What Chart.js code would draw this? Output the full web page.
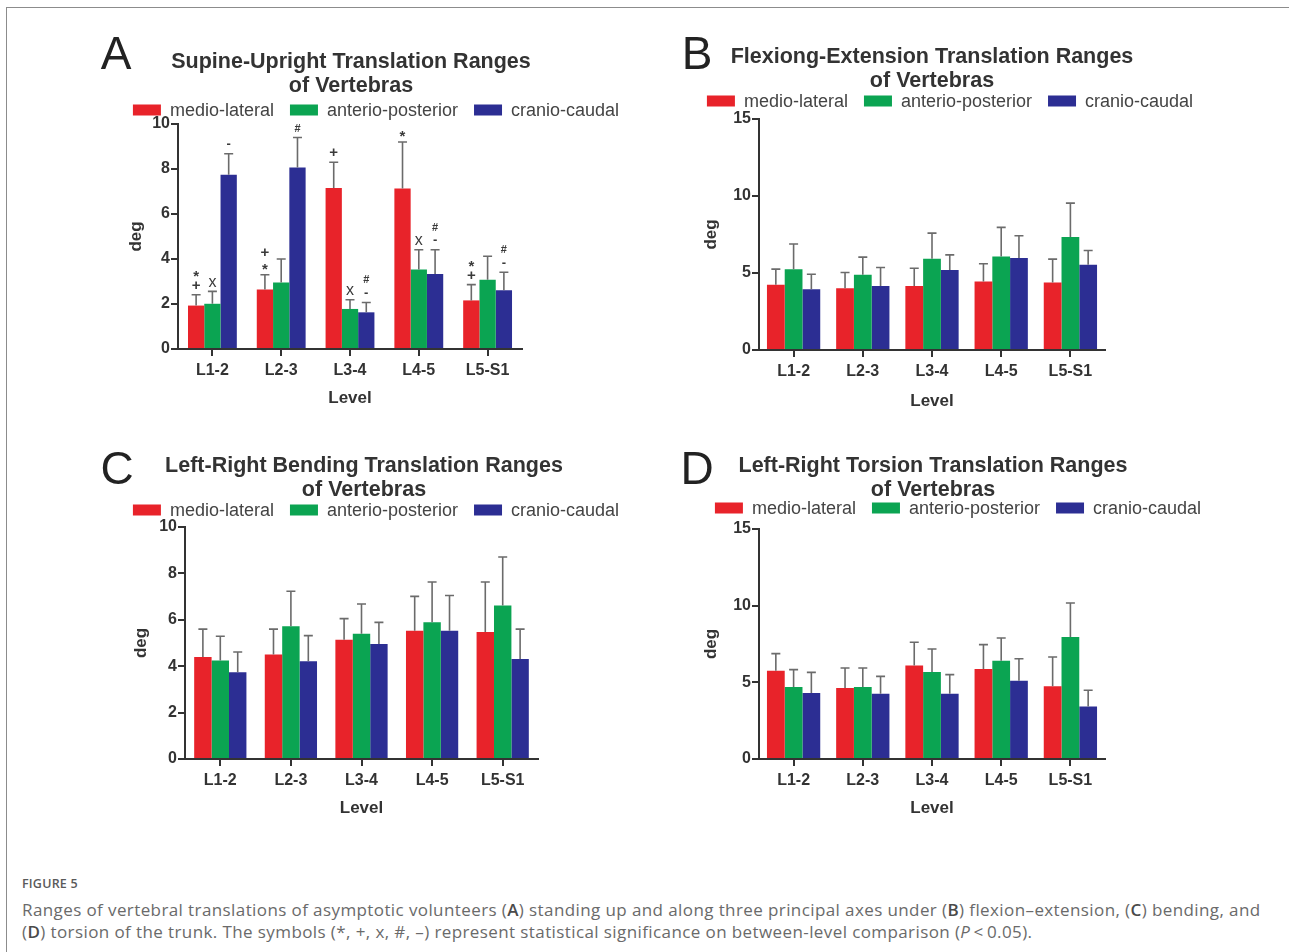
<!DOCTYPE html>
<html>
<head>
<meta charset="utf-8">
<script src="https://cdn.jsdelivr.net/npm/chart.js@4.4.0/dist/chart.umd.min.js"></script>
<style>
  body { margin: 0; background: #fff; width: 1289px; height: 952px; overflow: hidden; position: relative; }
  .frame { position: absolute; left: 6px; top: 7px; width: 1400px; height: 1000px;
           border-left: 1px solid #8c8c8c; border-top: 1px solid #8c8c8c; }
  .panel { position: absolute; }
  .fig-label { position: absolute; left: 22px; top: 875px; font: 600 12.5px "Open Sans", sans-serif;
               color: #5a5a5a; letter-spacing: 0.2px; }
  .caption { position: absolute; left: 22px; top: 899px; font: 400 17px "Open Sans", sans-serif;
             color: #6a6a6a; line-height: 22px; white-space: nowrap; letter-spacing: 0.4px; }
  .caption b { font-weight: 600; color: #4a4a4a; }
</style>
</head>
<body>
<div class="frame"></div>
<div class="fig-label">FIGURE 5</div>
<div class="caption">Ranges of vertebral translations of asymptotic volunteers (<b>A</b>) standing up and along three principal axes under (<b>B</b>) flexion–extension, (<b>C</b>) bending, and<br>(<b>D</b>) torsion of the trunk. The symbols (*, +, x, #, –) represent statistical significance on between-level comparison (<i>P</i>&thinsp;&lt;&thinsp;0.05).</div>

<script>
// ---- data (deg) ----
const levels = ['L1-2', 'L2-3', 'L3-4', 'L4-5', 'L5-S1'];
const seriesNames = ['medio-lateral', 'anterio-posterior', 'cranio-caudal'];
const seriesColors = ['#e8232a', '#0ba452', '#2c2e93'];

const ticks10 = [0, 2, 4, 6, 8, 10];
const ticks15 = [0, 5, 10, 15];

// A: supine-upright
const supMedio = [1.93, 2.64, 7.16, 7.13, 2.16];
const supMedioSD = [0.48, 0.66, 1.14, 2.07, 0.70];
const supAnterio = [2.01, 2.96, 1.78, 3.53, 3.08];
const supAnterioSD = [0.55, 1.04, 0.41, 0.88, 1.04];
const supCranio = [7.75, 8.07, 1.63, 3.33, 2.61];
const supCranioSD = [0.93, 1.33, 0.44, 1.08, 0.80];
// significance marks, top line first
const supMedioMarks = ['*\n+', '+\n*', '+', '*', '*\n+'];
const supAnterioMarks = ['x', '', 'x', 'x', ''];
const supCranioMarks = ['-', '#', '#\n-', '#\n-', '#\n-'];

// B: flexion-extension
const flexMedio = [4.23, 4.01, 4.16, 4.45, 4.38];
const flexMedioSD = [1.02, 1.02, 1.15, 1.15, 1.52];
const flexAnterio = [5.25, 4.88, 5.92, 6.07, 7.33];
const flexAnterioSD = [1.63, 1.15, 1.67, 1.89, 2.21];
const flexCranio = [3.95, 4.16, 5.20, 5.97, 5.53];
const flexCranioSD = [0.97, 1.20, 0.98, 1.45, 0.93];

// C: left-right bending
const bendMedio = [4.40, 4.50, 5.14, 5.53, 5.47];
const bendMedioSD = [1.20, 1.10, 0.91, 1.48, 2.16];
const bendAnterio = [4.25, 5.72, 5.40, 5.89, 6.62];
const bendAnterioSD = [1.04, 1.51, 1.28, 1.74, 2.09];
const bendCranio = [3.74, 4.21, 4.96, 5.53, 4.31];
const bendCranioSD = [0.87, 1.11, 0.93, 1.52, 1.29];

// D: left-right torsion
const torsMedio = [5.76, 4.63, 6.09, 5.87, 4.74];
const torsMedioSD = [1.11, 1.30, 1.52, 1.59, 1.91];
const torsAnterio = [4.70, 4.70, 5.67, 6.41, 7.96];
const torsAnterioSD = [1.13, 1.23, 1.50, 1.48, 2.21];
const torsCranio = [4.30, 4.26, 4.26, 5.11, 3.43];
const torsCranioSD = [1.35, 1.13, 1.24, 1.43, 1.05];

// ---- layout of the four panels (page pixels) ----
const panels = [
  {
    letter: 'A', title: ['Supine-Upright Translation Ranges', 'of Vertebras'],
    values: [supMedio, supAnterio, supCranio], errors: [supMedioSD, supAnterioSD, supCranioSD],
    marks: [supMedioMarks, supAnterioMarks, supCranioMarks], yTicks: ticks10,
    box: { left: 85, top: 20, width: 565, height: 400 },
    plot: { left: 178, right: 522, top: 124, bottom: 349 },
    letterPos: [116, 56], titleX: 351, titleY: 62, legendX: 376, legendY: 110,
    degX: 136, levelY: 398, catPct: 0.71
  },
  {
    letter: 'B', title: ['Flexiong-Extension Translation Ranges', 'of Vertebras'],
    values: [flexMedio, flexAnterio, flexCranio], errors: [flexMedioSD, flexAnterioSD, flexCranioSD],
    marks: null, yTicks: ticks15,
    box: { left: 665, top: 20, width: 600, height: 400 },
    plot: { left: 759, right: 1105, top: 119, bottom: 350 },
    letterPos: [697, 56], titleX: 932, titleY: 57, legendX: 950, legendY: 101,
    degX: 711, levelY: 401, catPct: 0.77
  },
  {
    letter: 'C', title: ['Left-Right Bending Translation Ranges', 'of Vertebras'],
    values: [bendMedio, bendAnterio, bendCranio], errors: [bendMedioSD, bendAnterioSD, bendCranioSD],
    marks: null, yTicks: ticks10,
    box: { left: 85, top: 430, width: 565, height: 400 },
    plot: { left: 185, right: 538, top: 527, bottom: 759 },
    letterPos: [117, 471], titleX: 364, titleY: 466, legendX: 376, legendY: 510,
    degX: 141, levelY: 808, catPct: 0.74
  },
  {
    letter: 'D', title: ['Left-Right Torsion Translation Ranges', 'of Vertebras'],
    values: [torsMedio, torsAnterio, torsCranio], errors: [torsMedioSD, torsAnterioSD, torsCranioSD],
    marks: null, yTicks: ticks15,
    box: { left: 665, top: 430, width: 600, height: 400 },
    plot: { left: 759, right: 1105, top: 529, bottom: 759 },
    letterPos: [697, 471], titleX: 933, titleY: 466, legendX: 958, legendY: 508,
    degX: 711, levelY: 808, catPct: 0.77
  }
];

const ink = '#333';
const markFonts = {
  '*': 'bold 15px "Liberation Sans"',
  '+': 'bold 15px "Liberation Sans"',
  'x': '16px "Liberation Sans"',
  '#': 'bold 11px "Liberation Sans"',
  '-': 'bold 13px "Liberation Sans"'
};

// error bars, significance marks, titles and the legend
function makeDecor(panel) {
  const ox = panel.box.left, oy = panel.box.top;
  return {
    id: 'decor' + panel.letter,
    afterDatasetsDraw(chart) {
      const ctx = chart.ctx;
      const yScale = chart.scales.y;
      ctx.save();
      chart.data.datasets.forEach((ds, i) => {
        chart.getDatasetMeta(i).data.forEach((bar, j) => {
          const top = yScale.getPixelForValue(ds.data[j] + ds.errorBars[j]);
          ctx.strokeStyle = '#6b6b6b';
          ctx.lineWidth = 1.6;
          ctx.beginPath();
          ctx.moveTo(bar.x, bar.y);
          ctx.lineTo(bar.x, top);
          ctx.moveTo(bar.x - 4.5, top);
          ctx.lineTo(bar.x + 4.5, top);
          ctx.stroke();

          const marks = panel.marks ? panel.marks[i][j] : '';
          if (!marks) return;
          ctx.fillStyle = '#3a3a3a';
          ctx.textAlign = 'center';
          ctx.textBaseline = 'middle';
          marks.split('\n').reverse().forEach((m, k) => {
            ctx.font = markFonts[m];
            const dy = m === '*' ? 4 : 0;
            ctx.fillText(m, bar.x, top - 9 - 13 * k + dy);
          });
        });
      });
      ctx.restore();
    },
    afterDraw(chart) {
      const ctx = chart.ctx;
      ctx.save();
      ctx.fillStyle = '#222';
      ctx.textAlign = 'center';
      ctx.textBaseline = 'middle';
      ctx.font = '46px "Liberation Sans"';
      ctx.fillText(panel.letter, panel.letterPos[0] - ox, panel.letterPos[1] - oy);

      ctx.fillStyle = ink;
      ctx.font = 'bold 21.5px "Liberation Sans"';
      panel.title.forEach((line, k) => {
        ctx.fillText(line, panel.titleX - ox, panel.titleY - oy + 24 * k);
      });

      // legend
      ctx.font = '18px "Liberation Sans"';
      const boxW = 28, boxH = 11, gap = 9, spacing = 16;
      const widths = chart.data.datasets.map(ds => ctx.measureText(ds.label).width);
      const total = widths.reduce((s, w) => s + boxW + gap + w, 0) + spacing * (widths.length - 1);
      let x = panel.legendX - ox - total / 2;
      const ly = panel.legendY - oy;
      chart.data.datasets.forEach((ds, i) => {
        ctx.fillStyle = ds.backgroundColor;
        ctx.fillRect(x, ly - boxH / 2, boxW, boxH);
        x += boxW + gap;
        ctx.fillStyle = '#444';
        ctx.textAlign = 'left';
        ctx.fillText(ds.label, x, ly + 1);
        x += widths[i] + spacing;
      });

      // axis titles
      const area = chart.chartArea;
      ctx.fillStyle = ink;
      ctx.textAlign = 'center';
      ctx.font = 'bold 17px "Liberation Sans"';
      ctx.fillText('Level', (area.left + area.right) / 2, panel.levelY - oy);
      ctx.translate(panel.degX - ox, (area.top + area.bottom) / 2);
      ctx.rotate(-Math.PI / 2);
      ctx.fillText('deg', 0, 0);
      ctx.restore();
    }
  };
}

panels.forEach(panel => {
  const wrap = document.createElement('div');
  wrap.className = 'panel';
  wrap.style.left = panel.box.left + 'px';
  wrap.style.top = panel.box.top + 'px';
  const canvas = document.createElement('canvas');
  canvas.width = panel.box.width;
  canvas.height = panel.box.height;
  wrap.appendChild(canvas);
  document.body.appendChild(wrap);

  const yTicks = panel.yTicks;
  const tickFont = { family: 'Liberation Sans', size: 16, weight: 'bold' };

  new Chart(canvas, {
    type: 'bar',
    data: {
      labels: levels,
      datasets: seriesNames.map((name, i) => ({
        label: name,
        data: panel.values[i],
        errorBars: panel.errors[i],
        backgroundColor: seriesColors[i],
        borderWidth: 0,
        barPercentage: 1.0,
        categoryPercentage: panel.catPct
      }))
    },
    options: {
      responsive: false,
      animation: false,
      events: [],
      layout: {
        padding: {
          left: 0,
          top: panel.plot.top - panel.box.top,
          right: panel.box.left + panel.box.width - panel.plot.right,
          bottom: 0
        }
      },
      plugins: {
        legend: { display: false },
        title: { display: false },
        tooltip: { enabled: false }
      },
      scales: {
        x: {
          offset: true,
          grid: { offset: false, drawOnChartArea: false, tickLength: 7, color: ink, lineWidth: 2 },
          border: { color: ink, width: 2 },
          ticks: { color: ink, font: tickFont, padding: 5, maxRotation: 0 },
          afterFit: s => { s.height = panel.box.top + panel.box.height - panel.plot.bottom; }
        },
        y: {
          min: yTicks[0],
          max: yTicks[yTicks.length - 1],
          afterBuildTicks: s => { s.ticks = yTicks.map(v => ({ value: v })); },
          grid: { drawOnChartArea: false, tickLength: 7, color: ink, lineWidth: 2 },
          border: { color: ink, width: 2 },
          ticks: { color: ink, font: tickFont, padding: 1 },
          afterFit: s => { s.width = panel.plot.left - panel.box.left; }
        }
      }
    },
    plugins: [makeDecor(panel)]
  });
});
</script>
</body>
</html>
